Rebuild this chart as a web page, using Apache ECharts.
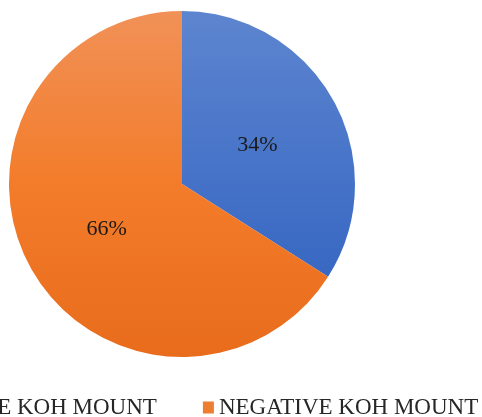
<!DOCTYPE html>
<html>
<head>
<meta charset="utf-8">
<script src="https://cdn.jsdelivr.net/npm/echarts@6/dist/echarts.min.js"></script>
<style>
  html, body { margin: 0; padding: 0; background: #fff; }
  #koh { width: 482px; height: 417px; }
</style>
</head>
<body>
<div id="koh"></div>
<script>
  // data
  var categories = ['POSITIVE KOH MOUNT', 'NEGATIVE KOH MOUNT'];
  var percents = [34, 66];

  // vertical gradients, pie top ~y11, bottom ~y357
  function grad(stops) {
    return new echarts.graphic.LinearGradient(0, 11, 0, 357, stops.map(function (c, i) {
      return { offset: i / (stops.length - 1), color: c };
    }), true);
  }
  var colors = [
    grad(['#5D85CF', '#4572C8', '#2D5FBD']),
    grad(['#F19157', '#F37C2A', '#E86C1C'])
  ];
  var legendColors = ['#4472C4', '#ED7D31'];
  var labelOffsets = [[-3, 4], [3, 2]];

  var myChart = echarts.init(document.getElementById('koh'));

  var option = {
    animation: false,
    legend: {
      left: -112,
      top: 391,
      width: 800,
      icon: 'rect',
      itemWidth: 11,
      itemHeight: 12,
      itemGap: 46,
      textStyle: {
        fontFamily: 'Liberation Serif',
        fontSize: 23,
        color: '#262626'
      },
      data: categories.map(function (name, i) {
        return { name: name, itemStyle: { color: legendColors[i] } };
      })
    },
    series: [{
      type: 'pie',
      center: [182, 184],
      radius: 173,
      startAngle: 90,
      clockwise: true,
      itemStyle: { borderWidth: 0 },
      label: {
        position: 'inside',
        formatter: '{c}%',
        fontFamily: 'Liberation Serif',
        fontSize: 22,
        color: '#1a1a1a'
      },
      labelLine: { show: false },
      emphasis: { disabled: true },
      data: categories.map(function (name, i) {
        return {
          name: name,
          value: percents[i],
          itemStyle: { color: colors[i], borderWidth: 0 },
          label: { offset: labelOffsets[i] }
        };
      })
    }]
  };

  myChart.setOption(option);
</script>
</body>
</html>
